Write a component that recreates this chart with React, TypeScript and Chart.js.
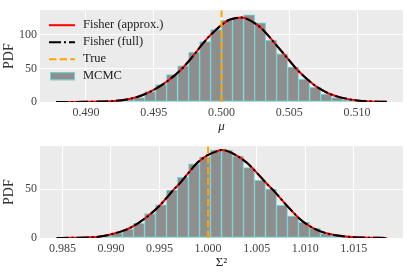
import React, { useEffect, useRef } from 'react';
import { Chart, registerables } from 'chart.js';

Chart.register(...registerables);

// ---------- data: top panel (mu) ----------
const muBinCenters = [
  0.48824, 0.48905, 0.48986, 0.49067, 0.49148, 0.49230, 0.49311, 0.49392, 0.49473, 0.49554,
  0.49635, 0.49717, 0.49798, 0.49879, 0.49960, 0.50041, 0.50122, 0.50204, 0.50285, 0.50366,
  0.50447, 0.50528, 0.50609, 0.50691, 0.50772, 0.50853, 0.50934, 0.51015, 0.51096, 0.51178,
];
const muCounts = [
  0.1, 0.1, 0.2, 0.5, 1, 2, 3.5, 6.5, 15.5, 26,
  41, 54, 74, 90, 108, 122, 126, 130, 118, 92,
  72, 52, 34, 22, 12, 6.5, 3.5, 1.5, 0.5, 0.2,
];
const muCurveX = [
  0.4878, 0.489, 0.49, 0.491, 0.492, 0.493, 0.494, 0.495, 0.4955, 0.496,
  0.4965, 0.497, 0.4975, 0.498, 0.4985, 0.499, 0.4995, 0.5, 0.5005, 0.501,
  0.5015, 0.502, 0.5025, 0.503, 0.5035, 0.504, 0.5045, 0.505, 0.5055, 0.506,
  0.5065, 0.507, 0.5075, 0.508, 0.509, 0.51, 0.511, 0.5122,
];
const muFisherApprox = [
  0.05, 0.1, 0.25, 0.6, 1.5, 3.7, 9, 18, 24, 31,
  39, 48, 59, 71, 84, 96, 106, 115, 122, 125,
  126, 123, 117, 109, 98, 86, 74, 62, 50, 40,
  31, 23, 17, 12, 5.8, 2.4, 0.9, 0.3,
];
const muFisherFull = [
  0.05, 0.1, 0.25, 0.6, 1.5, 3.7, 9, 18, 24, 31,
  39, 48, 59, 71, 84, 96, 106, 115, 122, 125,
  126, 123, 117, 109, 98, 86, 74, 62, 50, 40,
  31, 23, 17, 12, 5.8, 2.4, 0.9, 0.3,
];
const muTrue = 0.5;
const muTicks = [0.49, 0.495, 0.5, 0.505, 0.51];
const muPdfTicks = [0, 50, 100];

// ---------- data: bottom panel (Sigma^2) ----------
const sigBinCenters = [
  0.98496, 0.98609, 0.98722, 0.98835, 0.98949, 0.99062, 0.99175, 0.99288, 0.99402, 0.99515,
  0.99628, 0.99741, 0.99855, 0.99968, 1.00081, 1.00195, 1.00308, 1.00421, 1.00534, 1.00648,
  1.00761, 1.00874, 1.00987, 1.011, 1.01214, 1.01327, 1.0144, 1.01553, 1.01667, 1.0178,
];
const sigCounts = [
  0.1, 0.2, 0.5, 1.2, 2.5, 5, 9, 15, 25, 34,
  49, 62, 76, 83, 90, 90, 84, 72, 59, 50,
  33.5, 22.5, 16, 10, 4.5, 3, 1.5, 0.6, 0.3, 0.1,
];
const sigCurveX = [
  0.9844, 0.986, 0.9875, 0.9885, 0.9895, 0.99, 0.991, 0.992, 0.993, 0.994,
  0.995, 0.9958, 0.9965, 0.997, 0.998, 0.999, 1.0, 1.0008, 1.0014, 1.002,
  1.003, 1.004, 1.005, 1.006, 1.0068, 1.0075, 1.0085, 1.0095, 1.0105, 1.0115,
  1.013, 1.0145, 1.016, 1.0184,
];
const sigFisherApprox = [
  0.05, 0.2, 0.6, 1.1, 2.5, 3.8, 6.5, 10.5, 16.5, 24,
  33, 42, 50, 55, 67, 78, 85, 88.5, 90, 89,
  84, 77, 67, 56, 48, 40, 29, 19, 12, 7,
  3, 1.2, 0.4, 0.1,
];
const sigFisherFull = [
  0.05, 0.2, 0.6, 1.1, 2.5, 3.8, 6.5, 10.5, 16.5, 24,
  33, 42, 50, 55, 67, 78, 85, 88.5, 90, 89,
  84, 77, 67, 56, 48, 40, 29, 19, 12, 7,
  3, 1.2, 0.4, 0.1,
];
const sigTrue = 1.0;
const sigTicks = [0.985, 0.99, 0.995, 1.0, 1.005, 1.01, 1.015];
const sigPdfTicks = [0, 50];

const FONT = "'Liberation Serif', 'DejaVu Serif', serif";
const BG = '#EBEBEB';
const BAR_FILL = '#8E8E8E';
const BAR_EDGE = '#6DD6D6';

const bgPlugin = {
  id: 'plotBg',
  beforeDraw(chart: any) {
    const { ctx, chartArea: a } = chart;
    ctx.save();
    ctx.fillStyle = BG;
    ctx.fillRect(a.left, a.top, a.right - a.left, a.bottom - a.top);
    ctx.restore();
  },
};

const legendPlugin = {
  id: 'insideLegend',
  afterDraw(chart: any) {
    const { ctx, chartArea: a } = chart;
    const x0 = a.left + 9;
    const len = 26;
    const tx = a.left + 43;
    chart.data.datasets.forEach((ds: any, i: number) => {
      const y = a.top + 15 + i * 17;
      ctx.save();
      if (ds.type === 'bar') {
        ctx.fillStyle = ds.backgroundColor;
        ctx.fillRect(x0 + 1, y - 4, len - 1, 8);
        ctx.strokeStyle = ds.borderColor;
        ctx.lineWidth = 1;
        ctx.strokeRect(x0 + 1.5, y - 3.5, len - 2, 7);
      } else {
        ctx.strokeStyle = ds.borderColor;
        ctx.lineWidth = ds.borderWidth;
        ctx.setLineDash(ds.borderDash || []);
        ctx.beginPath();
        ctx.moveTo(x0, y);
        ctx.lineTo(x0 + len, y);
        ctx.stroke();
      }
      ctx.setLineDash([]);
      ctx.fillStyle = '#222';
      ctx.font = `12.5px ${FONT}`;
      ctx.textBaseline = 'middle';
      ctx.textAlign = 'left';
      ctx.fillText(ds.label, tx, y);
      ctx.restore();
    });
  },
};

function makeConfig(p: {
  binCenters: number[];
  counts: number[];
  curveX: number[];
  approx: number[];
  full: number[];
  trueVal: number;
  xTicks: number[];
  yTicks: number[];
  xMin: number;
  xMax: number;
  yMax: number;
  xTitle: string;
  xTitleItalic: boolean;
  legend: boolean;
}) {
  const tickFont = { family: FONT, size: 12 };
  return {
    type: 'bar',
    data: {
      datasets: [
        {
          type: 'line',
          label: 'Fisher (approx.)',
          data: p.curveX.map((x, i) => ({ x, y: p.approx[i] })),
          borderColor: '#FF0000',
          borderWidth: 2,
          pointRadius: 0,
          cubicInterpolationMode: 'monotone',
          order: 3,
        },
        {
          type: 'line',
          label: 'Fisher (full)',
          data: p.curveX.map((x, i) => ({ x, y: p.full[i] })),
          borderColor: '#000000',
          borderWidth: 2,
          borderDash: [12, 3, 2, 3],
          pointRadius: 0,
          cubicInterpolationMode: 'monotone',
          order: 2,
        },
        {
          type: 'line',
          label: 'True',
          data: [
            { x: p.trueVal, y: 0 },
            { x: p.trueVal, y: p.yMax },
          ],
          borderColor: '#FFA500',
          borderWidth: 2,
          borderDash: [7.4, 3.2],
          pointRadius: 0,
          order: 1,
        },
        {
          type: 'bar',
          label: 'MCMC',
          data: p.binCenters.map((x, i) => ({ x, y: p.counts[i] })),
          backgroundColor: BAR_FILL,
          borderColor: BAR_EDGE,
          borderWidth: 1,
          borderSkipped: false,
          barPercentage: 1,
          categoryPercentage: 1,
          order: 4,
        },
      ],
    },
    options: {
      responsive: false,
      animation: false,
      devicePixelRatio: 1,
      layout: { padding: { left: 0, right: 4, top: 3, bottom: 0 } },
      plugins: { legend: { display: false }, tooltip: { enabled: false } },
      scales: {
        x: {
          type: 'linear',
          min: p.xMin,
          max: p.xMax,
          offset: false,
          afterBuildTicks: (s: any) => {
            s.ticks = p.xTicks.map((v) => ({ value: v }));
          },
          afterFit: (s: any) => {
            s.height = 34;
          },
          grid: { color: '#FFFFFF', lineWidth: 1, drawTicks: false, offset: false },
          border: { display: false },
          ticks: {
            padding: 4,
            color: '#444',
            font: tickFont,
            maxRotation: 0,
            autoSkip: false,
            callback: (v: any) => Number(v).toFixed(3),
          },
          title: {
            display: true,
            text: p.xTitle,
            color: '#222',
            font: { family: FONT, size: 13, style: p.xTitleItalic ? 'italic' : 'normal' },
            padding: { top: 0, bottom: 2 },
          },
        },
        y: {
          min: 0,
          max: p.yMax,
          afterBuildTicks: (s: any) => {
            s.ticks = p.yTicks.map((v) => ({ value: v }));
          },
          afterFit: (s: any) => {
            s.width = 40;
          },
          grid: { color: '#FFFFFF', lineWidth: 1, drawTicks: false },
          border: { display: false },
          ticks: {
            padding: 3,
            color: '#444',
            font: tickFont,
            callback: (v: any) => String(v),
          },
          title: {
            display: true,
            text: 'PDF',
            color: '#333',
            font: { family: FONT, size: 14 },
            padding: { top: 1, bottom: 0 },
          },
        },
      },
    },
    plugins: p.legend ? [bgPlugin, legendPlugin] : [bgPlugin],
  } as any;
}

export default function App() {
  const topRef = useRef<HTMLCanvasElement | null>(null);
  const botRef = useRef<HTMLCanvasElement | null>(null);

  useEffect(() => {
    const top = new Chart(
      topRef.current as HTMLCanvasElement,
      makeConfig({
        binCenters: muBinCenters,
        counts: muCounts,
        curveX: muCurveX,
        approx: muFisherApprox,
        full: muFisherFull,
        trueVal: muTrue,
        xTicks: muTicks,
        yTicks: muPdfTicks,
        xMin: 0.48661,
        xMax: 0.51339,
        yMax: 137,
        xTitle: 'μ',
        xTitleItalic: true,
        legend: true,
      })
    );
    const bot = new Chart(
      botRef.current as HTMLCanvasElement,
      makeConfig({
        binCenters: sigBinCenters,
        counts: sigCounts,
        curveX: sigCurveX,
        approx: sigFisherApprox,
        full: sigFisherFull,
        trueVal: sigTrue,
        xTicks: sigTicks,
        yTicks: sigPdfTicks,
        xMin: 0.98269,
        xMax: 1.02007,
        yMax: 94,
        xTitle: 'Σ²',
        xTitleItalic: false,
        legend: false,
      })
    );
    return () => {
      top.destroy();
      bot.destroy();
    };
  }, []);

  return (
    <div style={{ position: 'absolute', left: 0, top: 0, width: 407, height: 272, background: '#FFFFFF' }}>
      <canvas ref={topRef} width={407} height={136} style={{ display: 'block', width: 407, height: 136 }} />
      <canvas ref={botRef} width={407} height={136} style={{ display: 'block', width: 407, height: 136 }} />
    </div>
  );
}
